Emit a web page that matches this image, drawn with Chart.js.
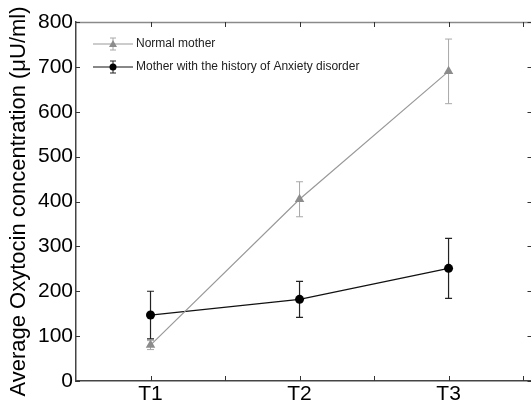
<!DOCTYPE html>
<html>
<head>
<meta charset="utf-8">
<script src="https://cdn.jsdelivr.net/npm/chart.js@4"></script>
<style>
  html, body { margin: 0; padding: 0; background: #fff; overflow: hidden; }
  #wrap { width: 539px; height: 403px; }
</style>
</head>
<body>
<div id="wrap"><canvas id="chart" width="539" height="403"></canvas></div>
<script>
// Oxytocin levels at three time points
const timePoints = [1, 2, 3];
const timeLabels = ['T1', 'T2', 'T3'];

const normalMean = [80, 405, 690];
const normalErr = [10, 39, 72];

const anxietyMean = [147, 182, 251];
const anxietyErr = [53, 40, 67];

const yTicks = [0, 100, 200, 300, 400, 500, 600, 700, 800];

// draws the error bars with the chart's own scales
const errorBars = {
    id: 'errorBars',
    beforeDatasetsDraw(chart) {
        const ctx = chart.ctx;
        const y = chart.scales.y;
        chart.data.datasets.forEach((ds, i) => {
            const meta = chart.getDatasetMeta(i);
            ctx.save();
            ctx.strokeStyle = ds.errColor;
            ctx.lineWidth = ds.errWidth;
            meta.data.forEach((pt, j) => {
                const v = ds.data[j].y;
                const e = ds.errors[j];
                const top = y.getPixelForValue(v + e);
                const bot = y.getPixelForValue(v - e);
                ctx.beginPath();
                ctx.moveTo(pt.x, top); ctx.lineTo(pt.x, bot);
                ctx.moveTo(pt.x - 3.5, top); ctx.lineTo(pt.x + 3.5, top);
                ctx.moveTo(pt.x - 3.5, bot); ctx.lineTo(pt.x + 3.5, bot);
                ctx.stroke();
            });
            ctx.restore();
        });
    }
};

// frame and inward tick marks
const frame = {
    id: 'frame',
    afterDraw(chart) {
        const ctx = chart.ctx;
        const {x, y} = chart.scales;
        const a = chart.chartArea;
        ctx.save();
        ctx.strokeStyle = '#8a8a8a';
        ctx.lineWidth = 1.5;
        ctx.beginPath();
        ctx.moveTo(a.left, a.top + 0.5); ctx.lineTo(a.right, a.top + 0.5);
        ctx.stroke();
        ctx.strokeStyle = '#333';
        ctx.lineWidth = 1;
        ctx.beginPath();
        yTicks.forEach(v => {
            const py = Math.round(y.getPixelForValue(v)) + 0.5;
            ctx.moveTo(a.left, py); ctx.lineTo(a.left + 4, py);
            ctx.moveTo(a.right - 6, py); ctx.lineTo(a.right, py);
        });
        for (let v = 1; v <= 3.5; v += 0.5) {
            const px = Math.round(x.getPixelForValue(v)) + 0.5;
            ctx.moveTo(px, a.bottom); ctx.lineTo(px, a.bottom - 5);
            ctx.moveTo(px, a.top); ctx.lineTo(px, a.top + 5);
        }
        ctx.stroke();
        ctx.restore();
    }
};

// legend inside the plot, top left
const insideLegend = {
    id: 'insideLegend',
    afterDraw(chart) {
        const ctx = chart.ctx;
        const rows = [44, 67];
        ctx.save();
        chart.data.datasets.forEach((ds, i) => {
            const ly = rows[i];
            ctx.strokeStyle = ds.borderColor;
            ctx.lineWidth = 1;
            ctx.beginPath();
            ctx.moveTo(93, ly); ctx.lineTo(133, ly);
            ctx.stroke();
            ctx.strokeStyle = ds.errColor;
            ctx.beginPath();
            ctx.moveTo(113, ly - 6); ctx.lineTo(113, ly + 6);
            ctx.moveTo(110, ly - 6); ctx.lineTo(116, ly - 6);
            ctx.moveTo(110, ly + 6); ctx.lineTo(116, ly + 6);
            ctx.stroke();
            ctx.fillStyle = ds.pointBackgroundColor;
            ctx.beginPath();
            if (ds.pointStyle === 'triangle') {
                ctx.moveTo(113, ly - 4); ctx.lineTo(117, ly + 3); ctx.lineTo(109, ly + 3);
            } else {
                ctx.arc(113, ly, 3.5, 0, Math.PI * 2);
            }
            ctx.closePath();
            ctx.fill();
            ctx.fillStyle = '#222';
            ctx.font = '12px "Liberation Sans", Arial, sans-serif';
            ctx.textBaseline = 'middle';
            ctx.fillText(ds.label, 136, ly);
        });
        ctx.restore();
    }
};

const ctx = document.getElementById('chart').getContext('2d');
const chart = new Chart(ctx, {
    type: 'line',
    data: {
        datasets: [{
            label: 'Normal mother',
            data: timePoints.map((t, i) => ({x: t, y: normalMean[i]})),
            errors: normalErr,
            errColor: '#a8a8a8',
            errWidth: 1,
            borderColor: '#999999',
            borderWidth: 1.2,
            pointStyle: 'triangle',
            pointRadius: 5.5,
            pointBackgroundColor: '#8c8c8c',
            pointBorderColor: '#8c8c8c',
            pointBorderWidth: 0,
            tension: 0
        },
        {
            label: 'Mother with the history of Anxiety disorder',
            data: timePoints.map((t, i) => ({x: t, y: anxietyMean[i]})),
            errors: anxietyErr,
            errColor: '#222222',
            errWidth: 1.2,
            borderColor: '#111111',
            borderWidth: 1.2,
            pointStyle: 'circle',
            pointRadius: 4.5,
            pointBackgroundColor: '#000000',
            pointBorderColor: '#000000',
            pointBorderWidth: 0,
            tension: 0
        }]
    },
    options: {
        responsive: false,
        animation: false,
        layout: { padding: { top: 22, right: 0, left: 0, bottom: 0 } },
        plugins: {
            legend: { display: false },
            tooltip: { enabled: false }
        },
        scales: {
            x: {
                type: 'linear',
                min: 0.5,
                max: 3.57,
                afterBuildTicks: s => { s.ticks = timePoints.map(v => ({value: v})); },
                afterFit: s => { s.height = 22; },
                ticks: {
                    color: '#000',
                    padding: 1,
                    font: { family: '"Liberation Sans", Arial, sans-serif', size: 21 },
                    callback: v => timeLabels[timePoints.indexOf(v)] || ''
                },
                grid: { drawOnChartArea: false, drawTicks: false },
                border: { color: '#444', width: 1.5 }
            },
            y: {
                min: 0,
                max: 800,
                afterBuildTicks: s => { s.ticks = yTicks.map(v => ({value: v})); },
                afterFit: s => { s.width = 76; },
                ticks: {
                    color: '#000',
                    padding: 3,
                    font: { family: '"Liberation Sans", Arial, sans-serif', size: 21 }
                },
                grid: { drawOnChartArea: false, drawTicks: false },
                border: { color: '#444', width: 1.5 },
                title: {
                    display: true,
                    text: 'Average Oxytocin concentration (μU/ml)',
                    color: '#000',
                    padding: { top: 6, bottom: 0 },
                    font: { family: '"Liberation Sans", Arial, sans-serif', size: 22 }
                }
            }
        }
    },
    plugins: [errorBars, frame, insideLegend]
});
</script>
</body>
</html>
